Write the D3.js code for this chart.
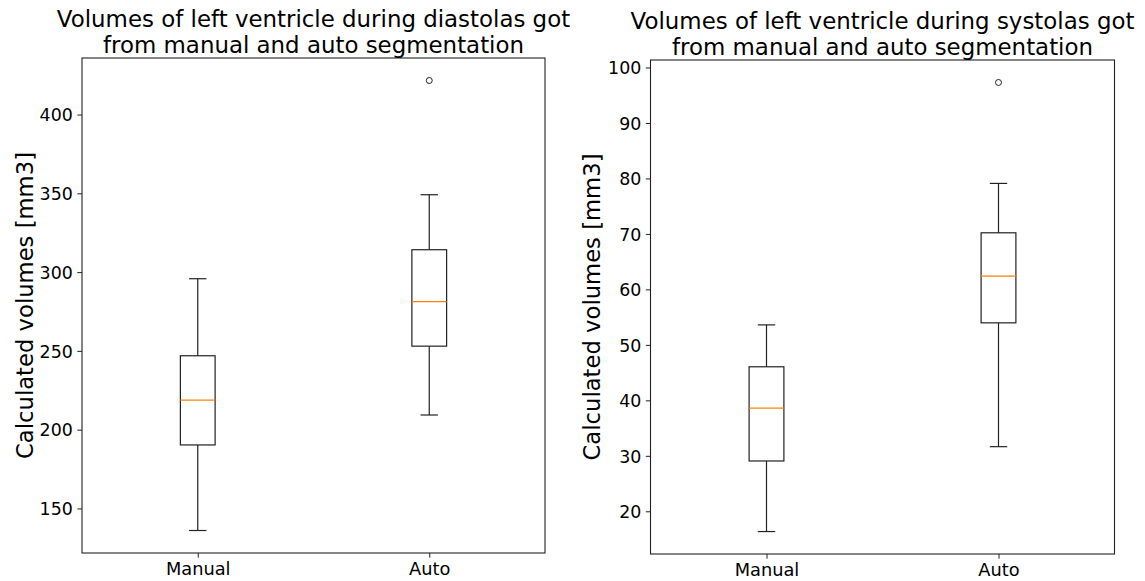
<!DOCTYPE html>
<html>
<head>
<meta charset="utf-8">
<script src="https://cdn.jsdelivr.net/npm/d3@7"></script>
<style>
  html, body { margin: 0; padding: 0; background: #fff; }
  svg text { font-family: "DejaVu Sans", sans-serif; fill: #000; }
</style>
</head>
<body>
<svg id="chart" width="1145" height="581"></svg>
<script>
// Groups shown on the x axis
const groups = ["Manual", "Auto"];

// Diastole volumes: five-number summaries (whisker low, Q1, median, Q3, whisker high)
const diastoleManual = [136, 190.3, 218.7, 246.9, 295.8];
const diastoleAuto   = [209.3, 253.0, 281.2, 314.2, 349.1];
const diastoleOutliers = [[], [421.6]];
const diastoleTicks = [150, 200, 250, 300, 350, 400];

// Systole volumes: five-number summaries
const systoleManual = [16.35, 29.07, 38.6, 46.05, 53.6];
const systoleAuto   = [31.65, 53.97, 62.4, 70.2, 79.1];
const systoleOutliers = [[], [97.3]];
const systoleTicks = [20, 30, 40, 50, 60, 70, 80, 90, 100];

const yLabel = "Calculated volumes [mm3]";
const titleDiastole = ["Volumes of left ventricle during diastolas got", "from manual and auto segmentation"];
const titleSystole  = ["Volumes of left ventricle during systolas got", "from manual and auto segmentation"];

const svg = d3.select("#chart");
const LINE = "#222";
const MEDIAN = "#ff7f0e";

function drawPanel(cfg) {
  const { x0, x1, y0, y1, stats, outliers, ticks, title, labelX } = cfg;
  const g = svg.append("g");

  // y extent from whiskers and fliers with 5% margins
  const all = stats.flatMap((s, i) => [s[0], s[4], ...outliers[i]]);
  const lo = d3.min(all), hi = d3.max(all), pad = (hi - lo) * 0.05;
  const y = d3.scaleLinear().domain([lo - pad, hi + pad]).range([y1, y0]);
  const x = d3.scaleLinear().domain([0.5, groups.length + 0.5]).range([x0, x1]);
  const boxW = 0.075, capW = 0.0375;

  // y axis
  const yAxis = d3.axisLeft(y).tickValues(ticks).tickSize(4.7).tickPadding(4.5).tickFormat(d3.format("d"));
  const ya = g.append("g").attr("transform", `translate(${x0},0)`).call(yAxis);
  ya.select(".domain").remove();
  ya.selectAll(".tick line").attr("stroke", LINE).attr("stroke-width", 1);
  ya.selectAll(".tick text").attr("font-size", 17.4).attr("fill", "#000").attr("dy", "0.36em")
    .style("font-family", "DejaVu Sans, sans-serif");

  // x axis
  const xAxis = d3.axisBottom(x).tickValues(groups.map((_, i) => i + 1))
    .tickFormat((d) => groups[d - 1]).tickSize(4.7).tickPadding(4.2);
  const xa = g.append("g").attr("transform", `translate(0,${y1})`).call(xAxis);
  xa.select(".domain").remove();
  xa.selectAll(".tick line").attr("stroke", LINE).attr("stroke-width", 1);
  xa.selectAll(".tick text").attr("font-size", 17.8).attr("fill", "#000")
    .style("font-family", "DejaVu Sans, sans-serif");

  // boxes
  stats.forEach((s, i) => {
    const p = i + 1;
    const b = g.append("g").attr("fill", "none").attr("stroke", LINE).attr("stroke-width", 1.2);
    // whiskers
    b.append("line").attr("x1", x(p)).attr("x2", x(p)).attr("y1", y(s[0])).attr("y2", y(s[1]));
    b.append("line").attr("x1", x(p)).attr("x2", x(p)).attr("y1", y(s[3])).attr("y2", y(s[4]));
    // caps
    b.append("line").attr("x1", x(p - capW)).attr("x2", x(p + capW)).attr("y1", y(s[0])).attr("y2", y(s[0]));
    b.append("line").attr("x1", x(p - capW)).attr("x2", x(p + capW)).attr("y1", y(s[4])).attr("y2", y(s[4]));
    // box
    b.append("rect").attr("x", x(p - boxW)).attr("width", x(p + boxW) - x(p - boxW))
      .attr("y", y(s[3])).attr("height", y(s[1]) - y(s[3]));
    // median
    g.append("line").attr("x1", x(p - boxW)).attr("x2", x(p + boxW))
      .attr("y1", y(s[2])).attr("y2", y(s[2])).attr("stroke", MEDIAN).attr("stroke-width", 1.2);
    // fliers
    outliers[i].forEach((v) => {
      g.append("circle").attr("cx", x(p)).attr("cy", y(v)).attr("r", 3)
        .attr("fill", "none").attr("stroke", LINE).attr("stroke-width", 1);
    });
  });

  // frame
  g.append("rect").attr("x", x0).attr("y", y0).attr("width", x1 - x0).attr("height", y1 - y0)
    .attr("fill", "none").attr("stroke", LINE).attr("stroke-width", 1.1);

  // title
  const cx = (x0 + x1) / 2;
  g.append("text").attr("x", cx).attr("y", y0 - 31).attr("text-anchor", "middle")
    .attr("font-size", 22.9).text(title[0]);
  g.append("text").attr("x", cx).attr("y", y0 - 5).attr("text-anchor", "middle")
    .attr("font-size", 22.9).text(title[1]);

  // y label
  g.append("text").attr("transform", `translate(${labelX},${(y0 + y1) / 2}) rotate(-90)`)
    .attr("text-anchor", "middle").attr("font-size", 22.7).text(yLabel);
}

drawPanel({
  x0: 82, x1: 545, y0: 58, y1: 553,
  stats: [diastoleManual, diastoleAuto], outliers: diastoleOutliers,
  ticks: diastoleTicks, title: titleDiastole, labelX: 32.5
});

drawPanel({
  x0: 650.5, x1: 1114.5, y0: 60, y1: 554,
  stats: [systoleManual, systoleAuto], outliers: systoleOutliers,
  ticks: systoleTicks, title: titleSystole, labelX: 600
});
</script>
</body>
</html>
